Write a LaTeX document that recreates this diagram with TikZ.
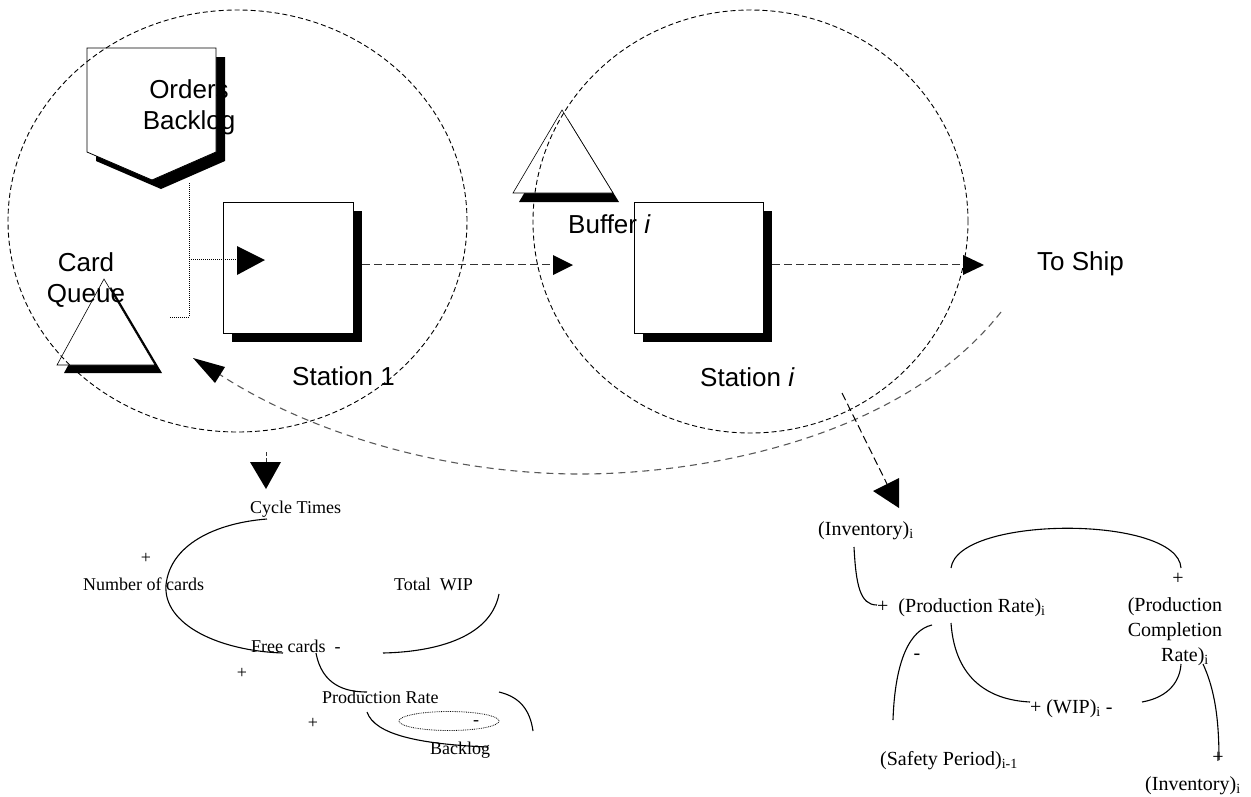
\documentclass[tikz,border=0pt]{standalone}
\usepackage{fontspec}
\setmainfont{Liberation Serif}
\newfontfamily\arialf{Liberation Sans}
\begin{document}
\begin{tikzpicture}[x=1pt,y=-1pt,
  sans/.style={font=\arialf\fontsize{26}{31}\selectfont, inner sep=0pt},
  serL/.style={font=\fontsize{18}{21}\selectfont, inner sep=0pt},
  serR/.style={font=\fontsize{20}{25}\selectfont, inner sep=0pt},
  zone/.style={draw, line width=0.9pt, dash pattern=on 5pt off 3pt},
  flow/.style={draw, line width=1pt, dash pattern=on 8pt off 4pt, black!80},
  fb/.style={draw, line width=1.1pt, dash pattern=on 7pt off 5pt, black!65},
  ctrl/.style={draw, line width=1pt, densely dotted},
  link/.style={draw, line width=1.1pt},
  arrowfill/.style={fill=black},
  blackshadow/.style={fill=black},
  whiteshape/.style={draw, fill=white, line width=0.8pt},
  stationbox/.style={draw, fill=white, line width=0.8pt, inner sep=0pt}
]
\useasboundingbox (0,0) rectangle (1251,796);

% ---------- Orders backlog (off-page shape) ----------
\fill[blackshadow, shift={(9,9)}] (87,48) -- (216,48) -- (216,152) -- (152,180) -- (87,152) -- cycle;
\path[whiteshape] (87,48) -- (216,48) -- (216,152) -- (152,180) -- (87,152) -- cycle;
\coordinate (obOut) at (189,183);

% ---------- Card queue triangle ----------
\fill[blackshadow, shift={(7,8)}] (104,279) -- (155,365) -- (57,365) -- cycle;
\path[whiteshape, line width=0.6pt] (104,279) -- (155,365) -- (57,365) -- cycle;

% ---------- Buffer triangle ----------
\fill[blackshadow, shift={(6,9)}] (562,110) -- (613,193) -- (513,193) -- cycle;
\path[whiteshape, line width=0.6pt] (562,110) -- (613,193) -- (513,193) -- cycle;

% ---------- Stations ----------
\fill[blackshadow] (232,211) rectangle (362,342);
\node[stationbox, minimum width=130pt, minimum height=131pt] (s1) at (288,267.5) {};
\fill[blackshadow] (643,211) rectangle (772,342);
\node[stationbox, minimum width=129pt, minimum height=131pt] (si) at (698.5,267.5) {};

% ---------- zones ----------
\path[zone] (237.5,221) ellipse [x radius=229.5pt, y radius=211pt];
\path[zone] (750.5,221.5) ellipse [x radius=217.5pt, y radius=211.5pt];

% ---------- labels (sans) ----------
\node[sans, align=center] (ob) at (189,107) {Orders\\Backlog};
\node[sans, align=center] (cq) at (86,280) {Card\\Queue};
\node[sans, anchor=base west] (s1l) at (292,385) {Station 1};
\node[sans, anchor=base west] (bufl) at (568,233) {Buffer \textit{i}};
\node[sans, anchor=base west] (sil) at (700,386) {Station \textit{i}};
\node[sans, anchor=base west] (ship) at (1037,270) {To Ship};

% ---------- control line from orders ----------
\coordinate (cA) at (189,317);
\coordinate (cB) at (169,317);
\coordinate (cJ) at (189,259);
\coordinate (s1in) at (237,259);
\path[ctrl] (obOut) -- (cA) -- (cB);
\path[ctrl] (cJ) -- (s1in);
\fill[arrowfill] (237,246) -- (265,260) -- (237,275) -- cycle;

% ---------- material flow ----------
\coordinate (s1out) at (362,264);
\coordinate (bufin) at (553,264);
\path[flow] (s1out) -- (bufin);
\fill[arrowfill] (553,255) -- (573,265) -- (553,275) -- cycle;
\coordinate (siout) at (772,264);
\coordinate (shipin) at (963,264);
\path[flow] (siout) -- (shipin);
\fill[arrowfill] (963,255) -- (984,265) -- (963,275) -- cycle;

% ---------- feedback (cards return) ----------
\coordinate (fbS) at (1001,312);
\coordinate (fbE) at (210,368);
\path[fb] (fbS) .. controls (900,440) and (700,474) .. (580,474) .. controls (440,474) and (300,430) .. (fbE);
\fill[arrowfill] (193,358) -- (225,367) -- (215,383) -- cycle;

% ---------- arrows to the causal loop diagrams ----------
\coordinate (ctA) at (266,452);
\coordinate (ctB) at (266,463);
\path[flow, dash pattern=on 4pt off 2pt] (ctA) -- (ctB);
\fill[arrowfill] (250,462) -- (281,462) -- (266,489) -- cycle;

\coordinate (invA) at (842,393);
\coordinate (invB) at (891,492);
\path[flow, black] (invA) -- (invB);
\fill[arrowfill] (873,491) -- (899,478) -- (899,508) -- cycle;

% ---------- left causal loop ----------
\node[serL, anchor=base west] (ct) at (250,513) {Cycle Times};
\node[serL, anchor=base west] (nc) at (83,590) {Number of cards};
\node[serL, anchor=base west] (tw) at (394,590) {Total\ \ WIP};
\node[serL, anchor=base west] (fc) at (251,652) {Free cards\ \ -};
\node[serL, anchor=base west] (pr) at (322,703) {Production Rate};
\node[serL, anchor=base west] (bl) at (430,754) {Backlog};
\node[serL] (p1) at (146,558) {+};
\node[serL] (p2) at (242,673) {+};
\node[serL] (p3) at (313,723) {+};
\node[serL] (m1) at (476,723) {-};
\path[draw, densely dotted, line width=0.8pt] (449,721) ellipse [x radius=50pt, y radius=9.5pt];

\path[link] (267,519) .. controls (215,523) and (170,545) .. (166,585)
            .. controls (163,625) and (220,651) .. (283,653);
\path[link] (499,594) .. controls (490,640) and (430,652) .. (383,653);
\path[link] (316,653) .. controls (322,685) and (345,692) .. (367,692);
\path[link] (499,692) .. controls (520,697) and (530,710) .. (533,731);
\path[link] (367,712) .. controls (375,735) and (420,744) .. (487,747);

% ---------- right causal loop ----------
\node[serR, anchor=base west] (inv1) at (818,535) {(Inventory)\textsubscript{i}};
\node[serR, anchor=base west] (pri) at (877,612) {+\ \ (Production Rate)\textsubscript{i}};
\node[serR] (p4) at (1178,579) {+};
\node[serR, align=center] (pcr) at (1175,632) {(Production\\Completion\\\ \ \ \ Rate)\textsubscript{i}};
\node[serR] (m2) at (917,657) {-};
\node[serR, anchor=base west] (wip) at (1030,713) {+ (WIP)\textsubscript{i} -};
\node[serR, anchor=base west] (sp) at (880,765) {(Safety Period)\textsubscript{i-1}};
\node[serR] (p5) at (1218,758) {+};
\node[serR, anchor=base west] (inv2) at (1145,790) {(Inventory)\textsubscript{i}};

\path[link] (854,547) .. controls (856,585) and (860,605) .. (877,605);
\path[link] (951,568) .. controls (958,515) and (1178,515) .. (1181,568);
\path[link] (932,625) .. controls (910,630) and (895,660) .. (893,720);
\path[link] (951,623) .. controls (955,680) and (990,700) .. (1030,702);
\path[link] (1142,702) .. controls (1170,697) and (1180,680) .. (1181,664);
\path[link] (1203,664) .. controls (1215,690) and (1219,720) .. (1219,760);
\end{tikzpicture}
\end{document}
